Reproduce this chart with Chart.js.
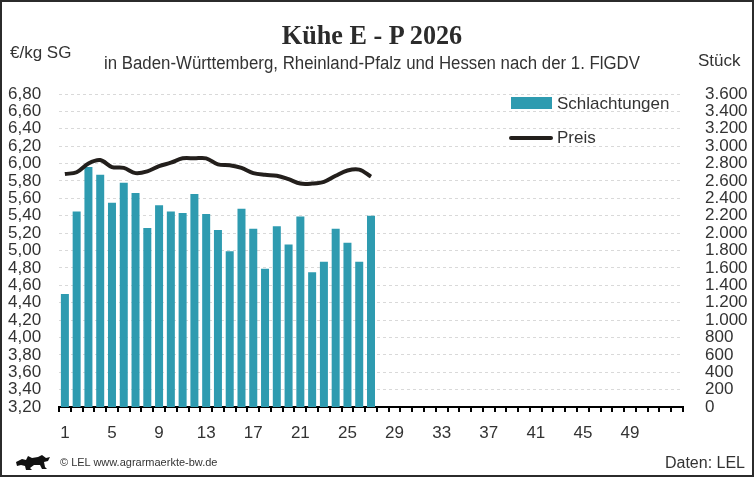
<!DOCTYPE html>
<html>
<head>
<meta charset="utf-8">
<script src="https://cdn.jsdelivr.net/npm/chart.js@4/dist/chart.umd.min.js"></script>
<style>
  body { margin: 0; background: #fff; }
  #wrap { position: relative; width: 754px; height: 477px; background: #fff; font-family: "Liberation Sans", Arial, sans-serif; color: #333; }
  #c { position: absolute; left: 0; top: 0; }
  .t { position: absolute; white-space: nowrap; line-height: 1; }
  #frame { position: absolute; left: 0; top: 0; width: 754px; height: 477px; box-sizing: border-box; border: 2px solid #2b2b2b; pointer-events: none; }
</style>
</head>
<body>
<div id="wrap">
  <canvas id="c" width="754" height="477"></canvas>
  <div class="t" id="title" style="left:0;width:744px;text-align:center;top:22px;font-family:'Liberation Serif',serif;font-weight:bold;font-size:27px;color:#2b2b2b;transform:scaleX(0.97);">Kühe E - P 2026</div>
  <div class="t" id="sub" style="left:0;width:744px;text-align:center;top:54px;font-size:18px;transform:scaleX(0.935);">in Baden-Württemberg, Rheinland-Pfalz und Hessen nach der 1. FlGDV</div>
  <div class="t" style="left:10px;top:44px;font-size:17px;">€/kg SG</div>
  <div class="t" style="left:698px;top:52px;font-size:17px;">Stück</div>

  <div style="position:absolute;left:511px;top:97px;width:41px;height:12px;background:#2e9bb0;"></div>
  <div class="t" style="left:557px;top:95px;font-size:17px;">Schlachtungen</div>
  <div style="position:absolute;left:509px;top:136px;width:44px;height:4px;border-radius:2px;background:#231f1c;"></div>
  <div class="t" style="left:557px;top:129px;font-size:17px;">Preis</div>

  <svg style="position:absolute;left:14px;top:453px" width="38" height="18" viewBox="0 0 38 18">
    <path d="M2 9 L8 6 L12 7 L14 3 L18 5 L24 4 L28 2 L32 5 L36 4 L34 8 L30 9 L31 14 L33 16 L28 16 L26 12 L20 12 L16 15 L18 17 L12 17 L11 13 L7 12 L3 13 Z" fill="#111"/>
  </svg>
  <div class="t" style="left:60px;top:457px;font-size:11px;">© LEL www.agrarmaerkte-bw.de</div>
  <div class="t" style="right:9px;top:455px;font-size:16px;">Daten: LEL</div>
  <div id="frame"></div>
</div>
<script>
// Kalenderwochen 2026
const weeks = [];
for (let w = 1; w <= 53; w++) weeks.push(String(w));

// Schlachtungen (Stück), KW 1-27
const slaughter = [1300, 2250, 2760, 2670, 2350, 2580, 2460, 2060, 2320, 2250, 2230, 2450, 2220, 2035,
  1790, 2280, 2050, 1590, 2080, 1870, 2190, 1550, 1670, 2050, 1890, 1670, 2200];

// Preis (€/kg SG), KW 1-27
const price = [5.88, 5.90, 6.00, 6.04, 5.96, 5.95, 5.89, 5.91, 5.97, 6.01, 6.06, 6.06, 6.06, 5.99,
  5.98, 5.95, 5.89, 5.87, 5.86, 5.82, 5.77, 5.77, 5.79, 5.86, 5.92, 5.93, 5.85];

const shownWeeks = ['1', '5', '9', '13', '17', '21', '25', '29', '33', '37', '41', '45', '49'];

const tickFont = { family: 'Liberation Sans, Arial, sans-serif', size: 17 };

const ctx = document.getElementById('c').getContext('2d');
new Chart(ctx, {
  type: 'bar',
  data: {
    labels: weeks,
    datasets: [
      {
        type: 'line',
        label: 'Preis',
        data: price,
        yAxisID: 'y',
        borderColor: '#231f1c',
        borderWidth: 4,
        pointRadius: 0,
        tension: 0.35,
        order: 0
      },
      {
        type: 'bar',
        label: 'Schlachtungen',
        data: slaughter,
        yAxisID: 'y1',
        backgroundColor: '#2e9bb0',
        categoryPercentage: 1,
        barPercentage: 0.68,
        order: 1
      }
    ]
  },
  options: {
    responsive: false,
    animation: false,
    layout: { padding: { left: 8, right: 0, top: 94, bottom: 28 } },
    plugins: {
      legend: { display: false },
      tooltip: { enabled: false }
    },
    scales: {
      x: {
        grid: { display: true, drawOnChartArea: false, drawTicks: true, tickLength: 5, color: '#000', lineWidth: 2, offset: true },
        border: { display: true, color: '#000', width: 2 },
        ticks: {
          autoSkip: false,
          maxRotation: 0,
          padding: 11,
          color: '#333',
          font: tickFont,
          callback: function (v) {
            const l = this.getLabelForValue(v);
            return shownWeeks.includes(l) ? l : '';
          }
        },
        afterFit: s => { s.height = 42; }
      },
      y: {
        position: 'left',
        min: 3.2,
        max: 6.8,
        grid: { color: '#d9d9d9', lineWidth: 1, drawTicks: false },
        border: { display: false, dash: [3, 3] },
        ticks: {
          stepSize: 0.2,
          autoSkip: false,
          crossAlign: 'far',
          padding: 0,
          color: '#333',
          font: tickFont,
          callback: v => Number(v).toFixed(2).replace('.', ',')
        },
        afterFit: s => { s.width = 51; }
      },
      y1: {
        position: 'right',
        min: 0,
        max: 3600,
        grid: { display: false, drawTicks: false },
        border: { display: false },
        ticks: {
          stepSize: 200,
          autoSkip: false,
          padding: 22,
          color: '#333',
          font: tickFont,
          callback: v => Number(v).toLocaleString('de-DE')
        },
        afterFit: s => { s.width = 71; }
      }
    }
  }
});
</script>
</body>
</html>
